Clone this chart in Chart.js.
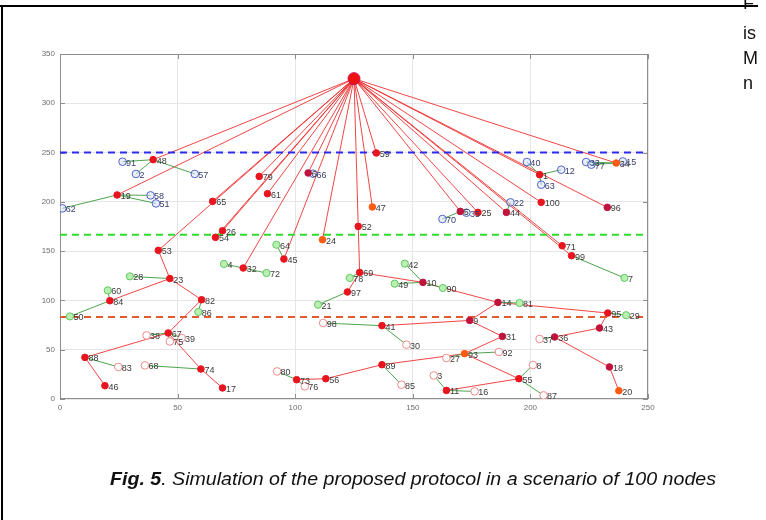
<!DOCTYPE html>
<html>
<head>
<meta charset="utf-8">
<script src="https://cdn.jsdelivr.net/npm/chart.js@4.4.1/dist/chart.umd.min.js"></script>
<style>
  html, body { margin: 0; padding: 0; background: #fff; }
  #wrap { position: relative; width: 766px; height: 520px; overflow: hidden; }
  #c { position: absolute; left: 0; top: 0; }
  .rule-top { position: absolute; left: 0; top: 5px; width: 758px; height: 2px; background: #000; }
  .rule-left { position: absolute; left: 1px; top: 5px; width: 2px; height: 515px; background: #000; }
  .side { position: absolute; left: 743px; font: 18px "Liberation Sans", Arial, sans-serif; color: #111; line-height: 20px; }
</style>
</head>
<body>
<div id="wrap">
  <canvas id="c" width="766" height="520"></canvas>
  <div class="side" style="top:-7px">F</div>
  <div class="rule-top"></div>
  <div class="rule-left"></div>
  <div class="side" style="top:23px">is</div>
  <div class="side" style="top:48px">M</div>
  <div class="side" style="top:73px">n</div>
</div>
<script>
// Base station
const sinkX = 125;
const sinkY = 325;

// Zone boundaries (dashed lines)
const zoneLevels = [250, 166.7, 83.3];

// Cluster heads: label, position, next hop ("sink" = base station)
const headLabels = ['48','19','65','53','23','32','45','26','54','79',
  '61','6','24','47','59','52','69','97','10','14',
  '95','9','41','31','93','55','11','89','56','73',
  '43','36','18','20','82','84','67','74','17','88',
  '46','1','34','100','96','44','25','5','71','99'];
const headX = [39.6,24.3,64.9,41.8,46.7,77.9,95.2,69.1,66.1,84.7,
  88.2,105.5,111.6,132.8,134.5,126.8,127.4,122.2,154.3,186.2,
  232.9,174.2,136.9,188.1,172.0,195.1,164.3,136.9,113.0,100.6,
  229.4,210.3,233.6,237.6,60.2,21.2,46.0,59.9,69.1,10.6,
  19.1,203.9,236.5,204.6,232.7,189.8,177.7,170.2,213.5,217.5];
const headY = [242.8,207.0,200.5,150.8,122.2,132.9,142.0,170.7,164.0,225.8,
  208.3,229.3,161.6,194.8,249.6,175.1,128.4,108.6,118.3,98.0,
  87.2,79.7,74.4,63.5,46.0,20.6,8.7,34.8,20.6,19.6,
  72.0,62.9,32.5,8.4,100.7,99.7,67.0,30.4,11.2,42.2,
  13.5,227.6,239.4,199.5,194.4,189.3,189.3,190.3,155.5,145.4];
const headParent = ['sink','sink','sink','sink','53','sink','sink','sink','sink','sink',
  'sink','sink','sink','sink','sink','sink','52','69','69','10',
  '14','14','9','9','31','93','55','93','89','56',
  '95','43','36','18','23','23','82','67','74','67',
  '88','sink','sink','sink','sink','sink','sink','sink','sink','sink'];

// Ordinary nodes: label, position, cluster head they join
const memberLabels = ['91','2','57','58','51','62','66','40','12','63','33','77','15','22','70','35',
  '28','4','72','64','78','21','42','49','90','81','29','7','60','50','86',
  '38','39','75','68','83','98','30','80','76','85','27','92','3','16','8','87','37'];
const memberX = [26.6,32.3,57.3,38.5,40.8,1.0,107.6,198.5,213.1,204.6,223.7,225.9,239.3,191.5,162.6,172.8,
  29.7,69.7,87.8,92.0,123.2,109.7,146.6,142.3,162.8,195.4,240.7,240.0,20.3,4.2,58.8,
  36.8,51.7,46.7,36.1,24.8,111.9,147.3,92.3,104.1,145.2,164.3,186.6,158.9,176.3,201.1,205.6,203.9];
const memberY = [240.7,228.3,228.3,206.6,198.4,193.4,228.6,240.4,232.6,217.4,240.4,237.7,241.0,199.5,182.6,189.0,
  124.4,137.0,127.8,156.5,122.8,95.7,137.3,117.0,112.6,97.4,85.0,122.8,110.2,83.8,88.3,
  64.5,61.9,58.4,34.1,32.5,77.1,55.1,28.0,12.8,14.5,41.6,47.7,23.9,7.7,34.5,3.7,60.9];
const memberParent = ['48','48','48','19','19','19','6','1','1','1','34','34','34','44','5','5',
  '23','32','32','45','69','97','10','10','10','14','95','99','84','84','82',
  '67','67','67','74','88','41','41','73','73','89','93','93','11','11','55','55','36'];

const xTicks = [0, 50, 100, 150, 200, 250];
const yTicks = [0, 50, 100, 150, 200, 250, 300, 350];

// ---- build datasets ----
function headPos(label) {
  if (label === 'sink') return { x: sinkX, y: sinkY };
  const i = headLabels.indexOf(label);
  return { x: headX[i], y: headY[i] };
}
function segments(xs, ys, parents) {
  const out = [];
  xs.forEach((x, i) => {
    const p = headPos(parents[i]);
    out.push({ x: x, y: ys[i] }, { x: p.x, y: p.y }, { x: p.x, y: null });
  });
  return out;
}
const relayLines = segments(headX, headY, headParent);
const joinLines = segments(memberX, memberY, memberParent);

const heads = headLabels.map((l, i) => ({ x: headX[i], y: headY[i], label: l }));
const members = memberLabels.map((l, i) => ({ x: memberX[i], y: memberY[i], label: l }));
const upper = members.filter(p => p.y > zoneLevels[1]);
const middle = members.filter(p => p.y <= zoneLevels[1] && p.y > zoneLevels[2]);
const lower = members.filter(p => p.y <= zoneLevels[2]);

const orangeHeads = ['24','47','20','93','34'];
const darkHeads = ['31','36','96','44','6','14','43','18','5','10','9'];
const headFill = heads.map(h => orangeHeads.includes(h.label) ? '#ff5a12'
  : darkHeads.includes(h.label) ? '#c0143c' : '#e8141e');

function hline(level, color) {
  return {
    type: 'line', data: [{ x: 0, y: level }, { x: 250, y: level }],
    borderColor: color, borderWidth: 2, borderDash: [7, 5], pointRadius: 0, order: 3
  };
}

// ---- drawing helpers ----
const axesBox = {
  id: 'axesBox',
  beforeDatasetsDraw(chart) {
    const { ctx, chartArea: a, scales: { x, y } } = chart;
    ctx.save();
    ctx.strokeStyle = '#8e8e8e';
    ctx.lineWidth = 1;
    ctx.strokeRect(a.left + 0.5, a.top + 0.5, a.right - a.left - 1, a.bottom - a.top - 1);
    ctx.beginPath();
    x.ticks.forEach(t => {
      const p = Math.round(x.getPixelForValue(t.value)) + 0.5;
      ctx.moveTo(p, a.bottom); ctx.lineTo(p, a.bottom - 5);
      ctx.moveTo(p, a.top); ctx.lineTo(p, a.top + 5);
    });
    y.ticks.forEach(t => {
      const p = Math.round(y.getPixelForValue(t.value)) + 0.5;
      ctx.moveTo(a.left, p); ctx.lineTo(a.left + 5, p);
      ctx.moveTo(a.right, p); ctx.lineTo(a.right - 5, p);
    });
    ctx.stroke();
    ctx.restore();
  }
};

const nodeLabels = {
  id: 'nodeLabels',
  afterDatasetsDraw(chart) {
    const { ctx } = chart;
    ctx.save();
    ctx.font = '9px "Liberation Sans", Arial, sans-serif';
    ctx.textBaseline = 'middle';
    ctx.textAlign = 'left';
    chart.data.datasets.forEach((ds, di) => {
      if (!ds.labelColor) return;
      const meta = chart.getDatasetMeta(di);
      meta.data.forEach((el, i) => {
        ctx.fillStyle = ds.labelColor;
        ctx.fillText(ds.data[i].label, el.x + 3.5, el.y + 1.5);
      });
    });
    ctx.restore();
  }
};

const caption = {
  id: 'caption',
  afterDraw(chart) {
    const { ctx } = chart;
    const bold = 'Fig. 5';
    const rest = '. Simulation of the proposed protocol in a scenario of 100 nodes';
    ctx.save();
    ctx.font = 'italic bold 18px "Liberation Sans", Arial, sans-serif';
    const w1 = ctx.measureText(bold).width;
    ctx.font = 'italic 18px "Liberation Sans", Arial, sans-serif';
    const w2 = ctx.measureText(rest).width;
    ctx.translate(110, 485);
    ctx.scale(606 / (w1 + w2), 1);
    ctx.fillStyle = '#111';
    ctx.textBaseline = 'alphabetic';
    ctx.font = 'italic bold 18px "Liberation Sans", Arial, sans-serif';
    ctx.fillText(bold, 0, 0);
    ctx.font = 'italic 18px "Liberation Sans", Arial, sans-serif';
    ctx.fillText(rest, w1, 0);
    ctx.restore();
  }
};

const tickFont = { family: '"Liberation Sans", Arial, sans-serif', size: 8 };

new Chart(document.getElementById('c'), {
  type: 'scatter',
  data: {
    datasets: [
      { data: [{ x: sinkX, y: sinkY }], pointRadius: 6, pointBackgroundColor: '#ee1111',
        pointBorderColor: '#c8105a', pointBorderWidth: 1, order: 0 },
      { data: heads, pointRadius: 3.3, pointBackgroundColor: headFill, pointBorderColor: headFill,
        pointBorderWidth: 1, labelColor: '#3a3a3a', order: 1 },
      { data: upper, pointRadius: 3.8, pointBackgroundColor: 'rgba(215,222,255,0.5)',
        pointBorderColor: '#4c62c8', pointBorderWidth: 1, labelColor: '#39406a', order: 2 },
      { data: middle, pointRadius: 3.6, pointBackgroundColor: '#b8f0b2',
        pointBorderColor: '#62c862', pointBorderWidth: 1, labelColor: '#3a3a3a', order: 2 },
      { data: lower, pointRadius: 3.8, pointBackgroundColor: '#ffffff',
        pointBorderColor: '#f08a8a', pointBorderWidth: 1, labelColor: '#3a3a3a', order: 2 },
      hline(zoneLevels[0], '#2a2af0'),
      hline(zoneLevels[1], '#2edc2e'),
      hline(zoneLevels[2], '#e25a30'),
      { type: 'line', data: joinLines, borderColor: '#4ea44e', borderWidth: 1, pointRadius: 0,
        spanGaps: false, order: 4 },
      { type: 'line', data: relayLines, borderColor: 'rgba(240,50,50,0.9)', borderWidth: 1,
        pointRadius: 0, spanGaps: false, order: 5 }
    ]
  },
  options: {
    responsive: false,
    animation: false,
    devicePixelRatio: 1,
    layout: { padding: { left: 30, top: 54, right: 118, bottom: 101 } },
    plugins: { legend: { display: false }, tooltip: { enabled: false } },
    scales: {
      x: {
        type: 'linear', min: 0, max: 250,
        afterFit(s) { s.height = 20; },
        afterBuildTicks(s) { s.ticks = xTicks.map(v => ({ value: v })); },
        ticks: { font: tickFont, color: '#6e6e6e', padding: 4, maxRotation: 0 },
        grid: { color: '#e6e6e6', drawTicks: false },
        border: { display: false }
      },
      y: {
        type: 'linear', min: 0, max: 350,
        afterFit(s) { s.width = 30; },
        afterBuildTicks(s) { s.ticks = yTicks.map(v => ({ value: v })); },
        ticks: { font: tickFont, color: '#6e6e6e', padding: 5 },
        grid: { color: '#e6e6e6', drawTicks: false },
        border: { display: false }
      }
    }
  },
  plugins: [axesBox, nodeLabels, caption]
});
</script>
</body>
</html>
